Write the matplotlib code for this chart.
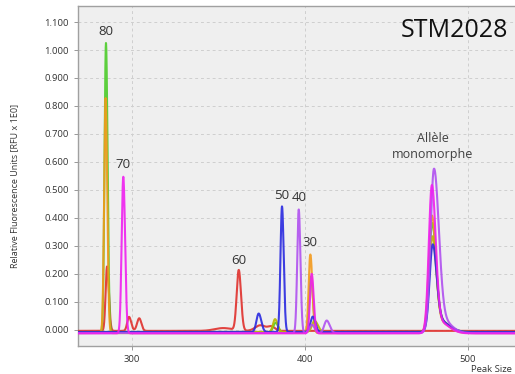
import numpy as np
import matplotlib
matplotlib.use("Agg")
import matplotlib.pyplot as plt

plt.rcParams['font.family'] = ['Open Sans', 'DejaVu Sans']

# ---- data (peak size in bp, RFU) ----
dye_names = ['green', 'orange', 'yellow', 'red', 'blue', 'violet', 'magenta']
dye_colors = {'green': '#4ccc2a', 'orange': '#f39a1c', 'yellow': '#b8b800',
              'red': '#e0302c', 'blue': '#2a2ae0', 'violet': '#b050f0',
              'magenta': '#f020f0'}
dye_baseline = {'green': -0.010, 'orange': -0.012, 'yellow': -0.008,
                'red': -0.004, 'blue': -0.008, 'violet': -0.012,
                'magenta': -0.013}

# peaks: position, height, left sigma, right sigma
green_pos = [285.7, 382.5, 403.4, 477.5, 482.0]
green_h = [1.035, 0.035, 0.200, 0.370, 0.040]
green_sl = [0.8, 1.5, 1.0, 1.9, 4.0]
green_sr = [0.9, 1.5, 1.2, 2.4, 6.0]

orange_pos = [285.5, 403.0, 477.3, 482.0]
orange_h = [0.840, 0.281, 0.400, 0.040]
orange_sl = [0.8, 1.0, 1.9, 4.0]
orange_sr = [0.9, 1.2, 2.4, 6.0]

yellow_pos = [382.1, 405.5, 477.6, 482.0]
yellow_h = [0.046, 0.040, 0.320, 0.040]
yellow_sl = [1.2, 1.5, 1.9, 4.0]
yellow_sr = [1.4, 2.0, 2.4, 6.0]

red_pos = [286.3, 298.5, 304.2, 352.0, 360.9, 373.5, 380.0]
red_h = [0.230, 0.050, 0.045, 0.010, 0.216, 0.020, 0.015]
red_sl = [0.8, 1.0, 1.2, 5.0, 1.2, 3.0, 2.0]
red_sr = [1.0, 1.2, 1.2, 5.0, 1.3, 3.0, 2.0]

blue_pos = [372.5, 386.2, 404.5, 477.8, 482.0]
blue_h = [0.066, 0.449, 0.055, 0.290, 0.040]
blue_sl = [1.3, 0.9, 1.5, 1.9, 4.0]
blue_sr = [1.5, 1.0, 1.5, 2.4, 6.0]

violet_pos = [396.1, 404.0, 412.8, 478.6, 483.0]
violet_h = [0.442, 0.030, 0.045, 0.560, 0.050]
violet_sl = [0.9, 1.5, 1.5, 2.1, 4.0]
violet_sr = [1.0, 1.5, 1.8, 3.0, 6.0]

magenta_pos = [295.3, 403.8, 477.3, 482.0]
magenta_h = [0.560, 0.213, 0.510, 0.040]
magenta_sl = [0.9, 1.0, 1.9, 4.0]
magenta_sr = [1.0, 1.2, 2.4, 6.0]

peak_table = {
    'green': (green_pos, green_h, green_sl, green_sr),
    'orange': (orange_pos, orange_h, orange_sl, orange_sr),
    'yellow': (yellow_pos, yellow_h, yellow_sl, yellow_sr),
    'red': (red_pos, red_h, red_sl, red_sr),
    'blue': (blue_pos, blue_h, blue_sl, blue_sr),
    'violet': (violet_pos, violet_h, violet_sl, violet_sr),
    'magenta': (magenta_pos, magenta_h, magenta_sl, magenta_sr),
}

label_texts = ['80', '70', '60', '50', '40', '30']
label_x = [285.7, 295.3, 360.9, 386.0, 396.5, 403.0]
label_y = [1.035, 0.560, 0.216, 0.449, 0.442, 0.281]

x_ticks = [300, 400, 500]
y_ticks = [0.0, 0.1, 0.2, 0.3, 0.4, 0.5, 0.6, 0.7, 0.8, 0.9, 1.0, 1.1]

# ---- size calibration scale (slightly non-linear like the instrument) ----
K = -0.000333


def fwd(x):
    d = np.asarray(x, dtype=float) - 400.0
    return d + K * d * d


def inv(y):
    y = np.asarray(y, dtype=float)
    return 400.0 + (-1.0 + np.sqrt(np.maximum(1.0 + 4.0 * K * y, 1e-9))) / (2.0 * K)


fig = plt.figure(figsize=(5.15, 3.74), dpi=100)
ax = fig.add_axes([78 / 515, 0.0757, 437 / 515, 0.908])
ax.set_facecolor('#efefef')
ax.set_xscale('function', functions=(fwd, inv))

x = np.linspace(268, 535, 4000)
draw_order = ['red', 'green', 'orange', 'yellow', 'blue', 'violet', 'magenta']
for name in draw_order:
    pos, h, sl, sr = peak_table[name]
    y = np.full_like(x, dye_baseline[name])
    for p, hh, a, b in zip(pos, h, sl, sr):
        s = np.where(x < p, a, b)
        y += hh * np.exp(-0.5 * ((x - p) / s) ** 2)
    ax.plot(x, y, color=dye_colors[name], lw=1.5, alpha=0.9, zorder=3)

for t, lx, ly in zip(label_texts, label_x, label_y):
    ax.annotate(t, (lx, ly), xytext=(0, 1.5), textcoords='offset points',
                ha='center', va='bottom', fontsize=9.5, color='#333333', zorder=5)

ax.text(478, 0.605, 'Allèle\nmonomorphe', ha='center', va='bottom',
        fontsize=9, color='#404040', linespacing=1.3, zorder=5)
ax.text(0.984, 0.965, 'STM2028', transform=ax.transAxes, ha='right', va='top',
        fontsize=18, color='#111111', zorder=5)

ax.set_xlim(270.3, 530.5)
ax.set_ylim(-0.057, 1.157)
ax.set_xticks(x_ticks)
ax.set_xticklabels([str(v) for v in x_ticks])
ax.set_yticks(y_ticks)
ax.set_yticklabels(['%.3f' % v for v in y_ticks])
ax.tick_params(labelsize=6.8, colors='#333333', length=3, width=0.6)
ax.tick_params(axis='both', color='#888888')
ax.grid(True, color='#cfcfcf', linestyle=(0, (3, 3)), linewidth=0.7, zorder=0)
ax.set_axisbelow(True)
for side in ['left', 'bottom', 'top']:
    ax.spines[side].set_color('#a0a0a0')
    ax.spines[side].set_linewidth(1.0)
ax.spines['right'].set_visible(False)

fig.text(15 / 515, 1 - 186 / 374, 'Relative Fluorescence Units [RFU x 1E0]',
         rotation=90, ha='center', va='center', fontsize=6.5, color='#333333')
fig.text(512 / 515, 1 - 369 / 374, 'Peak Size', ha='right', va='center',
         fontsize=6.8, color='#333333')

fig.savefig('out.png', dpi=100)
